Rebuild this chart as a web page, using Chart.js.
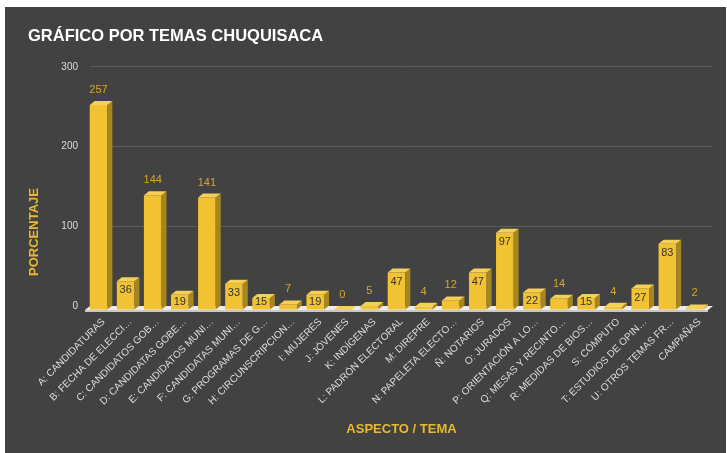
<!DOCTYPE html>
<html lang="es">
<head>
    <meta charset="UTF-8">
    <title>Gráfico por temas Chuquisaca</title>
    <script src="https://cdn.jsdelivr.net/npm/chart.js"></script>
    <style>
        body {
            margin: 0;
            padding: 0;
            background-color: #ffffff;
        }
        .chart-box {
            width: 727px;
            height: 453px;
        }
    </style>
</head>
<body>

    <div class="chart-box">
        <canvas id="temasChart"></canvas>
    </div>

    <script>
        // Data
        const categories = [
            'A: CANDIDATURAS', 'B: FECHA DE ELECCI…', 'C: CANDIDATOS GOB…', 'D: CANDIDATAS GOBE…',
            'E: CANDIDATOS MUNI…', 'F: CANDIDATAS MUNI…', 'G: PROGRAMAS DE G…', 'H: CIRCUNSCRIPCION…',
            'I: MUJERES', 'J: JÓVENES', 'K: INDÍGENAS', 'L: PADRÓN ELECTORAL', 'M: DIREPRE',
            'N: PAPELETA ELECTO…', 'Ñ: NOTARIOS', 'O: JURADOS', 'P: ORIENTACIÓN A LO…',
            'Q: MESAS Y RECINTO…', 'R: MEDIDAS DE BIOS…', 'S: CÓMPUTO', 'T: ESTUDIOS DE OPIN…',
            'U: OTROS TEMAS FR…', 'CAMPAÑAS'
        ];
        const values = [257, 36, 144, 19, 141, 33, 15, 7, 19, 0, 5, 47, 4, 12, 47, 97, 22, 14, 15, 4, 27, 83, 2];
        const yTicks = [0, 100, 200, 300];

        const DX = 5;   // 3D depth, horizontal
        const DY = 4;   // 3D depth, vertical
        const FONT = "'Liberation Sans', Arial, sans-serif";

        // Dark panel behind the chart
        const panelPlugin = {
            id: 'panel',
            beforeDraw(chart) {
                const ctx = chart.ctx;
                ctx.save();
                ctx.fillStyle = '#ffffff';
                ctx.fillRect(0, 0, chart.width, chart.height);
                ctx.fillStyle = '#424242';
                ctx.fillRect(5, 7, 721, chart.height - 7);
                ctx.restore();
            },
            afterDraw(chart) {
                // Y axis title, placed lower than centre like the reference
                const ctx = chart.ctx;
                ctx.save();
                ctx.translate(34, 232);
                ctx.rotate(-Math.PI / 2);
                ctx.fillStyle = '#e8b92e';
                ctx.font = 'bold 13px ' + FONT;
                ctx.textAlign = 'center';
                ctx.textBaseline = 'middle';
                ctx.fillText('PORCENTAJE', 0, 0);
                ctx.restore();
            }
        };

        // Fake 3D: floor, bar sides / tops and value labels
        const bars3dPlugin = {
            id: 'bars3d',
            beforeDatasetsDraw(chart) {
                const ctx = chart.ctx;
                const a = chart.chartArea;
                ctx.save();
                // floor
                ctx.fillStyle = '#ececec';
                ctx.beginPath();
                ctx.moveTo(a.left, a.bottom);
                ctx.lineTo(a.right, a.bottom);
                ctx.lineTo(a.right - DX, a.bottom + DY);
                ctx.lineTo(a.left - DX, a.bottom + DY);
                ctx.closePath();
                ctx.fill();
                ctx.fillStyle = '#c8c8c8';
                ctx.fillRect(a.left - DX, a.bottom + DY, a.right - a.left, 2);
                // bars are drawn on the front plane
                ctx.translate(-DX, DY);
            },
            afterDatasetsDraw(chart) {
                const ctx = chart.ctx;
                const meta = chart.getDatasetMeta(0);
                meta.data.forEach((bar, i) => {
                    const p = bar.getProps(['x', 'y', 'base', 'width'], true);
                    const l = p.x - p.width / 2;
                    const r = p.x + p.width / 2;
                    // side
                    ctx.fillStyle = '#a8861f';
                    ctx.beginPath();
                    ctx.moveTo(r, p.y);
                    ctx.lineTo(r + DX, p.y - DY);
                    ctx.lineTo(r + DX, p.base - DY);
                    ctx.lineTo(r, p.base);
                    ctx.closePath();
                    ctx.fill();
                    // top
                    ctx.fillStyle = '#f5d056';
                    ctx.beginPath();
                    ctx.moveTo(l, p.y);
                    ctx.lineTo(l + DX, p.y - DY);
                    ctx.lineTo(r + DX, p.y - DY);
                    ctx.lineTo(r, p.y);
                    ctx.closePath();
                    ctx.fill();

                    // value label: inside for mid-size bars, above otherwise
                    const v = values[i];
                    ctx.textAlign = 'center';
                    ctx.textBaseline = 'middle';
                    ctx.font = '11px ' + FONT;
                    if (v >= 15 && v < 120) {
                        ctx.fillStyle = '#333333';
                        ctx.fillText(String(v), p.x, Math.min(p.y + 9, p.base - 7.5));
                    } else {
                        ctx.fillStyle = '#d4a82e';
                        ctx.fillText(String(v), p.x, p.y - 15);
                    }
                });
                ctx.restore();
            }
        };

        const ctx = document.getElementById('temasChart').getContext('2d');
        const temasChart = new Chart(ctx, {
            type: 'bar',
            data: {
                labels: categories,
                datasets: [{
                    label: 'Temas',
                    data: values,
                    backgroundColor: '#f1c232',
                    borderWidth: 0,
                    categoryPercentage: 1,
                    barPercentage: 0.65,
                    clip: false
                }]
            },
            options: {
                responsive: true,
                maintainAspectRatio: false,
                animation: false,
                events: [],
                layout: {
                    padding: { left: 28, right: 14, top: 0, bottom: 0 }
                },
                plugins: {
                    legend: { display: false },
                    tooltip: { enabled: false },
                    title: {
                        display: true,
                        text: 'GRÁFICO POR TEMAS CHUQUISACA',
                        align: 'start',
                        color: '#ffffff',
                        font: { family: FONT, size: 16.5, weight: 'bold' },
                        padding: { top: 27, bottom: 20 }
                    }
                },
                scales: {
                    x: {
                        grid: { display: false, drawTicks: false },
                        border: { display: false },
                        ticks: {
                            color: '#dddddd',
                            font: { family: FONT, size: 10 },
                            autoSkip: false,
                            minRotation: 45,
                            maxRotation: 45,
                            padding: 10
                        },
                        title: {
                            display: true,
                            text: 'ASPECTO / TEMA',
                            color: '#e8b92e',
                            font: { family: FONT, size: 13, weight: 'bold' },
                            padding: { top: 0, bottom: 16 }
                        },
                        afterFit(scale) {
                            scale.height = 147;
                        }
                    },
                    y: {
                        min: 0,
                        max: 300,
                        afterBuildTicks(scale) {
                            scale.ticks = yTicks.map(v => ({ value: v }));
                        },
                        grid: {
                            color: (c) => c.tick && c.tick.value === 0 ? 'rgba(0,0,0,0)' : '#5c5c5c',
                            lineWidth: 1,
                            drawTicks: false
                        },
                        border: { display: false },
                        ticks: {
                            color: '#dddddd',
                            font: { family: FONT, size: 10 },
                            padding: 12
                        },
                        afterFit(scale) {
                            scale.width = 62;
                        }
                    }
                }
            },
            plugins: [panelPlugin, bars3dPlugin]
        });
    </script>

</body>
</html>
